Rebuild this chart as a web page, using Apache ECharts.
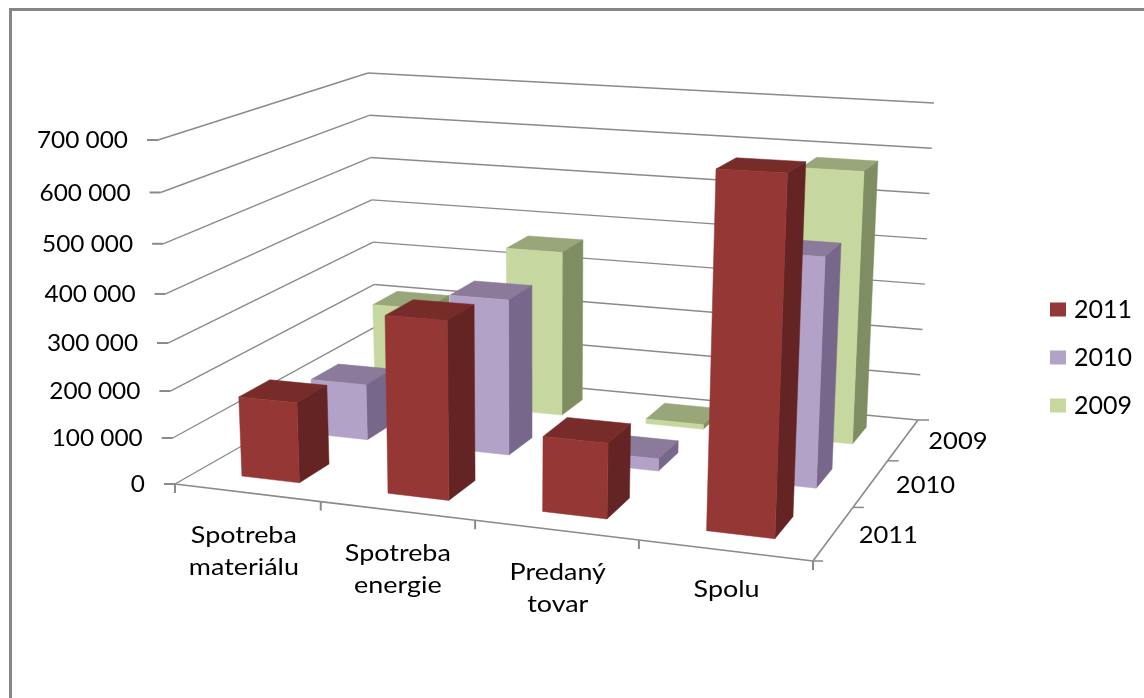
<!DOCTYPE html>
<html>
<head>
<meta charset="utf-8">
<style>
    html, body { margin: 0; padding: 0; background: #fff; }
    #main { width: 1144px; height: 698px; }
</style>
<script src="https://cdn.jsdelivr.net/npm/echarts@6/dist/echarts.min.js"></script>
</head>
<body>
<div id="main"></div>
<script>
    // chart data
    const categories = ['Spotreba\nmateriálu', 'Spotreba\nenergie', 'Predaný\ntovar', 'Spolu'];
    const years = ['2011', '2010', '2009'];
    const values2011 = [171000, 366000, 153000, 681000];
    const values2010 = [122000, 332000, 26000, 468000];
    const values2009 = [212000, 363000, 10000, 581000];
    const valueTicks = [0, 100000, 200000, 300000, 400000, 500000, 600000, 700000];
    const valueTickLabels = ['0', '100 000', '200 000', '300 000', '400 000', '500 000', '600 000', '700 000'];

    // corners of the 3d box on the page
    const floorCorners = [[175, 484], [813, 561], [918, 420], [377, 369]];
    const topCorners = [[158, 140], [828, 173], [934, 103], [368, 73]];

    const font = 'Lato';
    const fontSize = 23;
    const lineColor = '#8a8a8a';
    const barWidth = 0.40;   // share of a category
    const barDepth = 0.42;   // share of a depth slot
    const barShift = 0.003;  // bars sit a little right of the band centre
    const categoryLabelNudge = [-4, 0, 1, 1];

    const faces = {
        '2011': {front: '#953735', top: '#772c2a', side: '#632423'},
        '2010': {front: '#b3a2c7', top: '#8b7a99', side: '#77688b'},
        '2009': {front: '#c6d89f', top: '#98a67a', side: '#7f8d63'}
    };

    function solve(A, b) {
        let n = b.length, M = A.map((r, i) => r.concat(b[i]));
        for (let i = 0; i < n; i++) {
            let p = i;
            for (let k = i + 1; k < n; k++) if (Math.abs(M[k][i]) > Math.abs(M[p][i])) p = k;
            [M[i], M[p]] = [M[p], M[i]];
            for (let k = 0; k < n; k++) {
                if (k === i) continue;
                let f = M[k][i] / M[i][i];
                for (let j = i; j <= n; j++) M[k][j] -= f * M[i][j];
            }
        }
        return M.map((r, i) => r[n] / r[i]);
    }

    // floor mapping (u along categories, v into the depth) from the four page corners
    function planeMap(corners) {
        const uv = [[0, 0], [1, 0], [1, 1], [0, 1]], A = [], b = [];
        corners.forEach((p, i) => {
            let u = uv[i][0], v = uv[i][1];
            A.push([u, v, 1, 0, 0, 0, -u * p[0], -v * p[0]]); b.push(p[0]);
            A.push([0, 0, 0, u, v, 1, -u * p[1], -v * p[1]]); b.push(p[1]);
        });
        const H = solve(A, b);
        return (u, v) => {
            let w = H[6] * u + H[7] * v + 1;
            return [(H[0] * u + H[1] * v + H[2]) / w, (H[3] * u + H[4] * v + H[5]) / w];
        };
    }
    const floorMap = planeMap(floorCorners);
    const riseVectors = topCorners.map((p, i) => [p[0] - floorCorners[i][0], p[1] - floorCorners[i][1]]);

    function project(u, v, h) {
        let a = floorMap(u, v);
        let V = v * 1.25 / (1 - v + v * 1.25);  // depth as it falls on the page
        let w = [(1 - u) * (1 - V), u * (1 - V), u * V, (1 - u) * V];
        let rise = [0, 1].map(k => riseVectors.reduce((s, r, i) => s + r[k] * w[i], 0));
        // the front of the box foreshortens towards the floor
        let k = 1 + 0.08 * (1 - v);
        let t = h / (h + (1 - h) * k);
        return [a[0] + rise[0] * t, a[1] + rise[1] * t];
    }

    // axis coords -> box fractions
    function toBox(params, api, cat, value) {
        let c = api.coord([cat, value]), cs = params.coordSys;
        return {u: (c[0] - cs.x) / cs.width, h: 1 - (c[1] - cs.y) / cs.height, band: api.size([1, 0])[0] / cs.width};
    }

    function poly(points, fill) {
        return {type: 'polygon', shape: {points: points}, style: {fill: fill, stroke: fill, lineWidth: 0.5}};
    }

    function line(a, b, width) {
        return {type: 'line', shape: {x1: a[0], y1: a[1], x2: b[0], y2: b[1]}, style: {stroke: lineColor, lineWidth: width || 1.6}};
    }

    function label(text, x, y, align, stretch, vAlign) {
        return {
            type: 'text', x: x, y: y, scaleX: stretch,
            style: {text: text, fill: '#000', font: fontSize + 'px ' + font, align: align, verticalAlign: vAlign || 'middle', lineHeight: 32}
        };
    }

    function renderBar(slot, year) {
        return (params, api) => {
            let b = toBox(params, api, api.value(0), api.value(1));
            let u0 = b.u + barShift - b.band * barWidth / 2, u1 = b.u + barShift + b.band * barWidth / 2;
            let vc = (slot + 0.5) / years.length, dv = barDepth / years.length / 2;
            let v0 = vc - dv, v1 = vc + dv, c = faces[year];
            return {
                type: 'group',
                children: [
                    poly([project(u0, v0, b.h), project(u1, v0, b.h), project(u1, v1, b.h), project(u0, v1, b.h)], c.top),
                    poly([project(u1, v0, 0), project(u1, v1, 0), project(u1, v1, b.h), project(u1, v0, b.h)], c.side),
                    poly([project(u0, v0, 0), project(u1, v0, 0), project(u1, v0, b.h), project(u0, v0, b.h)], c.front)
                ]
            };
        };
    }

    // value gridlines on the two walls, with ticks and labels
    function renderValueAxis(params, api) {
        let i = api.value(0);
        let h = toBox(params, api, 0, valueTicks[i]).h;
        let a = project(0, 0, h), b = project(0, 1, h), c = project(1, 1, h);
        return {
            type: 'group',
            children: [
                line(a, b, 1.4), line(b, c, 1.4),
                line([a[0] - 11, a[1]], a, 2),
                label(valueTickLabels[i], a[0] - 30, a[1] + 1, 'right', 1.06)
            ]
        };
    }

    function renderCategoryAxis(params, api) {
        let i = api.value(0);
        let b = toBox(params, api, i, 0);
        let left = project(b.u - b.band / 2, 0, 0), right = project(b.u + b.band / 2, 0, 0), mid = project(b.u, 0, 0);
        let children = [line(left, right), line(right, [right[0], right[1] + 9], 2)];
        if (i === 0) children.push(line(left, [left[0], left[1] + 9], 2));
        let twoLines = categories[i].indexOf('\n') >= 0;
        children.push(label(categories[i], mid[0] + 1 + categoryLabelNudge[i], mid[1] + (twoLines ? 27 : 23), 'center', 1.17, 'top'));
        return {type: 'group', children: children};
    }

    function renderDepthAxis(params, api) {
        let s = api.value(0);
        let a = project(1, s / years.length, 0), b = project(1, (s + 1) / years.length, 0), mid = project(1, (s + 0.5) / years.length, 0);
        let children = [line(a, b), line(b, [b[0] + 11, b[1]], 1.5), label(years[s], mid[0] + 25, mid[1] + 2, 'left', 1.11)];
        if (s === 0) children.push(line(a, [a[0] + 10, a[1]], 1.5));
        return {type: 'group', children: children};
    }

    function barData(values) {
        return values.map((v, i) => [i, v]);
    }

    function barSeries(slot, values) {
        let year = years[slot];
        return {
            name: year, type: 'custom', coordinateSystem: 'cartesian2d',
            itemStyle: {color: faces[year].front},
            renderItem: renderBar(slot, year), data: barData(values), z: 10 - slot
        };
    }

    function axisSeries(render, data) {
        return {
            type: 'custom', coordinateSystem: 'cartesian2d', silent: true, z: 1,
            renderItem: render, data: data.map((d, i) => [i, 0])
        };
    }

    let option = {
        animation: false,
        backgroundColor: '#fff',
        textStyle: {fontFamily: font},
        // the hidden cartesian grid only supplies the scales, project() puts it in perspective
        grid: {left: 0, top: 0, width: 1000, height: 600},
        xAxis: {type: 'category', data: categories, show: false},
        yAxis: {type: 'value', min: 0, max: 700000, interval: 100000, show: false},
        legend: {
            data: years, orient: 'vertical', left: 1045, top: 292, icon: 'rect',
            itemWidth: 16, itemHeight: 14, itemGap: 23,
            textStyle: {fontSize: 25, fontFamily: font, color: '#000', padding: [0, 0, 0, 3]},
            selectedMode: false
        },
        graphic: [{
            type: 'rect', shape: {x: 10.5, y: 9.5, width: 1300, height: 900},
            style: {fill: 'none', stroke: '#868686', lineWidth: 3}, silent: true
        }],
        series: [
            axisSeries(renderValueAxis, valueTicks),
            axisSeries(renderCategoryAxis, categories),
            axisSeries(renderDepthAxis, years),
            barSeries(2, values2009),
            barSeries(1, values2010),
            barSeries(0, values2011)
        ]
    };
    let myChart = echarts.init(document.getElementById('main'));
    myChart.setOption(option);
</script>
</body>
</html>
